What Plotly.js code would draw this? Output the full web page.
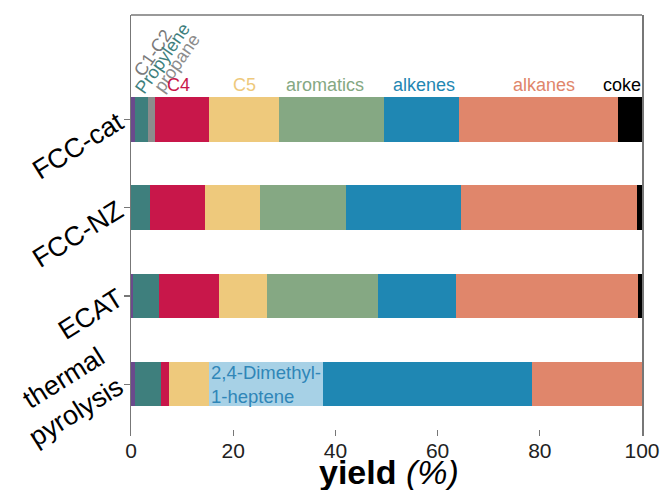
<!DOCTYPE html>
<html>
<head>
<meta charset="utf-8">
<script src="https://cdn.plot.ly/plotly-3.0.1.min.js"></script>
<style>html,body{margin:0;padding:0;background:#fff;}#chart{width:661px;height:490px;}</style>
</head>
<body>
<div id="chart"></div>
<script>
// categories, bottom to top
const categories = ["thermal<br>pyrolysis", "ECAT", "FCC-NZ", "FCC-cat"];
// yields (%) per fraction, in the same order as categories
const c1c2      = [0.8, 0.3, 0.0, 0.7];
const propylene = [5.0, 5.2, 3.7, 2.7];
const propane   = [0.0, 0.0, 0.0, 1.2];
const c4        = [1.7, 11.8, 10.8, 10.7];
const c5        = [7.7, 9.3, 10.7, 13.7];
const aromatics = [0.0, 21.8, 16.9, 20.5];
const dimethylheptene = [22.3, 0.0, 0.0, 0.0];
const alkenes   = [40.9, 15.2, 22.5, 14.6];
const alkanes   = [21.6, 35.6, 34.5, 31.2];
const coke      = [0.0, 0.8, 0.9, 4.7];
const xTicks = [0, 20, 40, 60, 80, 100];
const xTitle = "<b>yield</b> <i>(%)</i>";

const seriesNames = ["C1-C2","Propylene","propane","C4","C5","aromatics","2,4-Dimethyl-1-heptene","alkenes","alkanes","coke"];
const seriesData = [c1c2, propylene, propane, c4, c5, aromatics, dimethylheptene, alkenes, alkanes, coke];
const seriesColors = ["#6a4a8c","#3e7f7d","#8c8c8c","#c8174a","#eec97c","#85a883","#a7d1e6","#1f87b3","#e0866b","#000000"];

const traces = seriesData.map((vals, i) => ({
  type: "bar",
  orientation: "h",
  name: seriesNames[i],
  y: [0, 1, 2, 3],
  x: vals,
  width: 0.505,
  marker: {color: seriesColors[i], line: {width: 0}},
  hoverinfo: "skip",
  showlegend: false
}));

const F = "Liberation Sans, Arial, sans-serif";
const ann = (text, x, y, color, extra) => Object.assign({
  text: text, x: x, y: y, xref: "x", yref: "y", showarrow: false,
  font: {family: F, size: 18, color: color}, xanchor: "center", yanchor: "middle", borderpad: 0
}, extra || {});

const annotations = [
  ann("C1-C2", 4.3, 3.754, "#7a7a7a", {textangle: -55, font: {family: F, size: 18, color: "#7a7a7a"}}),
  ann("Propylene", 6.26, 3.697, "#3e7f7d", {textangle: -55, font: {family: F, size: 18, color: "#3e7f7d"}}),
  ann("propane", 9.0, 3.64, "#8c8c8c", {textangle: -55, font: {family: F, size: 18, color: "#8c8c8c"}}),
  ann("C4", 9.3, 3.39, "#c8174a"),
  ann("C5", 22.2, 3.39, "#eec97c"),
  ann("aromatics", 37.9, 3.39, "#85a883"),
  ann("alkenes", 57.4, 3.39, "#1f87b3"),
  ann("alkanes", 80.9, 3.39, "#e0866b"),
  ann("coke", 96.0, 3.39, "#000000"),
  ann("2,4-Dimethyl-<br>1-heptene", 15.5, 0, "#2f86b8", {xanchor: "left", align: "left", font: {family: F, size: 18.5, color: "#2f86b8"}}),
  // x-axis title
  {text: xTitle, xref: "paper", yref: "paper", x: 0.505, y: -0.037, xanchor: "center", yanchor: "top",
   showarrow: false, borderpad: 0, font: {family: F, size: 34, color: "#000"}}
];

const layout = {
  width: 661, height: 490,
  margin: {l: 131, r: 19, t: 15, b: 54},
  paper_bgcolor: "#fff", plot_bgcolor: "#fff",
  barmode: "stack",
  bargap: 0,
  font: {family: F, color: "#000"},
  xaxis: {
    range: [0, 100],
    tickvals: xTicks,
    ticktext: xTicks.map(String),
    ticks: "inside", ticklen: 6, tickcolor: "#777", tickwidth: 1.2,
    showline: false, showgrid: false, zeroline: false,
    tickfont: {family: F, size: 21, color: "#222"},
    automargin: false
  },
  yaxis: {
    range: [-0.588, 4.185],
    tickvals: [0, 1, 2, 3],
    ticktext: categories,
    tickangle: -32,
    ticks: "outside", ticklen: 6, tickcolor: "#777", tickwidth: 1.2,
    showline: true, linecolor: "#777", linewidth: 1.5, mirror: true,
    showgrid: false, zeroline: false,
    automargin: false,
    tickfont: {family: F, size: 27, color: "#000"}
  },
  shapes: [
    {type: "line", xref: "paper", yref: "paper", x0: 0, x1: 1, y0: 1, y1: 1, line: {color: "#777", width: 1.5}}
  ],
  annotations: annotations,
  showlegend: false
};

Plotly.newPlot("chart", traces, layout, {displayModeBar: false, staticPlot: true});
</script>
</body>
</html>
